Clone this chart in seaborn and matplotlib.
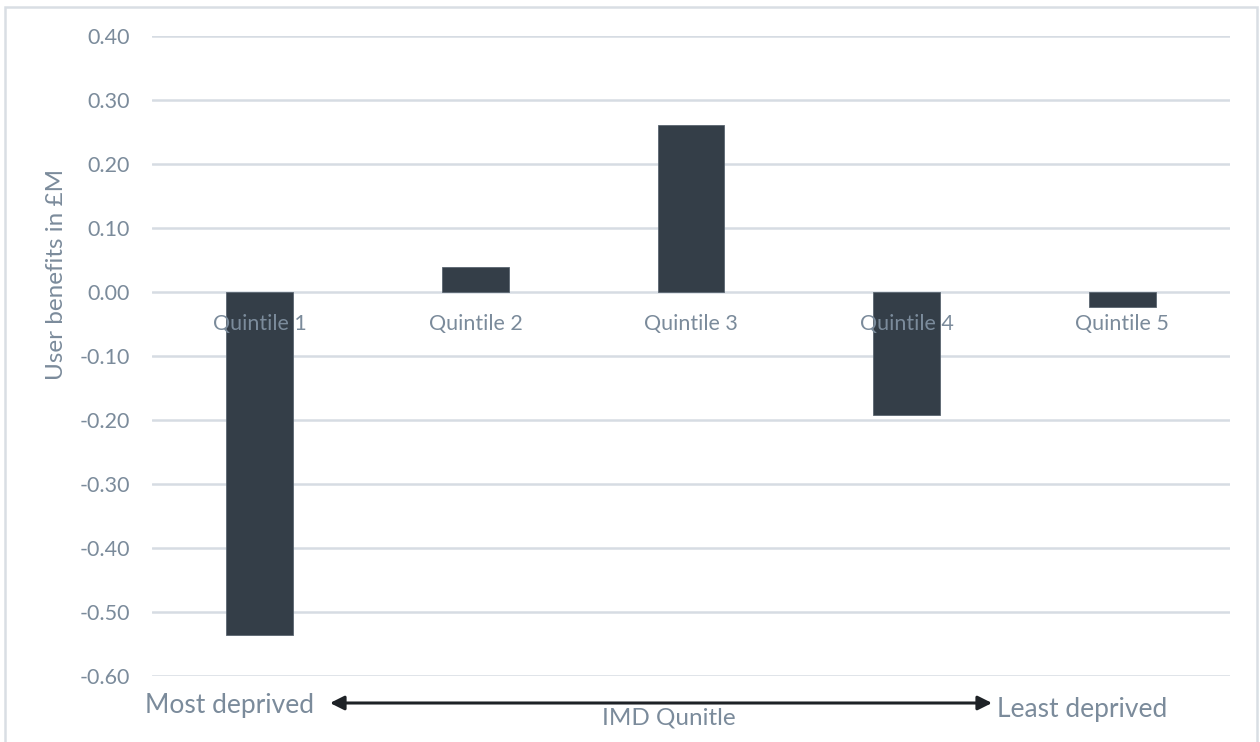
import matplotlib
matplotlib.use("Agg")
import matplotlib.pyplot as plt
from matplotlib.patches import Rectangle
import seaborn as sns
import pandas as pd

categories = ["Quintile 1", "Quintile 2", "Quintile 3", "Quintile 4", "Quintile 5"]
benefits = [-0.536, 0.039, 0.261, -0.192, -0.023]
y_ticks = [0.40, 0.30, 0.20, 0.10, 0.00, -0.10, -0.20, -0.30, -0.40, -0.50, -0.60]

TEXT = "#7b8b9b"
GRID = "#d6dce3"
BAR = "#343e48"

sns.set_theme(style="white")
plt.rcParams["font.family"] = ["Lato", "DejaVu Sans"]

df = pd.DataFrame({"quintile": categories, "benefit": benefits})

fig = plt.figure(figsize=(12.6, 7.42), dpi=100)
ax = fig.add_axes([152 / 1260, 1 - 676 / 742, (1230 - 152) / 1260, (676 - 36) / 742])

sns.barplot(data=df, x="quintile", y="benefit", color=BAR, saturation=1,
            width=0.31, edgecolor="#5a6570", linewidth=0.6, ax=ax, zorder=2)

ax.set_ylim(-0.6, 0.4)
ax.set_xlim(-0.5, len(categories) - 0.5)
ax.set_yticks(y_ticks)
ax.set_yticklabels([f"{v:.2f}" for v in y_ticks])
ax.yaxis.grid(True, color=GRID, linewidth=1.8, zorder=0)
ax.set_axisbelow(True)

for s in ["top", "right", "left", "bottom"]:
    ax.spines[s].set_visible(False)

ax.set_xticks([])
ax.tick_params(axis="y", length=0, pad=16, labelsize=15.5, labelcolor=TEXT)
ax.set_xlabel("")
ax.set_ylabel("")

# category names sit just under the zero line, on top of the bars
for i, name in enumerate(categories):
    ax.annotate(name, xy=(i, 0), xytext=(0, -32), textcoords="offset pixels",
                ha="center", va="center", fontsize=15.5, color=TEXT, zorder=5)

fig.text(57 / 1260, 1 - 274 / 742, "User benefits in £M", rotation=90,
         ha="center", va="center", fontsize=17.5, color=TEXT)

# deprivation direction arrow beneath the chart
fig.text(145 / 1260, 1 - 705 / 742, "Most deprived", ha="left", va="center",
         fontsize=19, color=TEXT)
fig.text(997 / 1260, 1 - 709 / 742, "Least deprived", ha="left", va="center",
         fontsize=19, color=TEXT)
fig.text(669 / 1260, 1 - 718 / 742, "IMD Qunitle", ha="center", va="center",
         fontsize=17.5, color=TEXT)
ax.annotate("", xy=(330 / 1260, 1 - 703 / 742), xytext=(992 / 1260, 1 - 703 / 742),
            xycoords="figure fraction", textcoords="figure fraction",
            arrowprops=dict(arrowstyle="<|-|>", color="#1e2226", lw=2.2,
                            mutation_scale=21, shrinkA=0, shrinkB=0))

fig.patches.append(Rectangle((5 / 1260, -0.05), (1257 - 5) / 1260, 1.05 - 7 / 742,
                             transform=fig.transFigure, fill=False,
                             edgecolor="#d9dee4", linewidth=1.8))

fig.savefig("out.png", dpi=100)
